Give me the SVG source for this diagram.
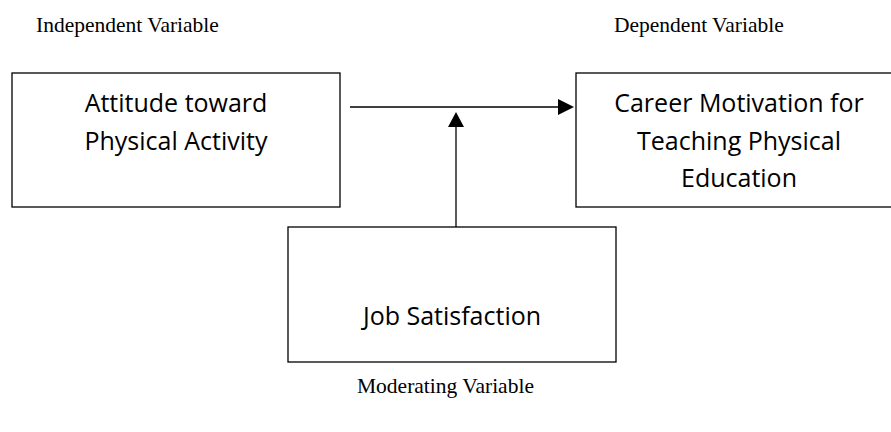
<svg xmlns="http://www.w3.org/2000/svg" width="891" height="432" viewBox="0 0 891 432">
<style>
.box{fill:#fff;stroke:#000;stroke-width:1.3}
.t{font-family:"Open Sans","Noto Sans",sans-serif;font-size:25px;fill:#000;text-anchor:middle}
.lab{font-family:"Liberation Serif","Times New Roman",serif;font-size:21.5px;fill:#000}
.ln{stroke:#000;stroke-width:1.3;fill:none}
</style>
<rect width="891" height="432" fill="#fff"/>
<text class="lab" x="36" y="32">Independent Variable</text>
<text class="lab" x="614" y="32">Dependent Variable</text>
<text class="lab" x="357" y="393">Moderating Variable</text>
<g id="iv">
<rect class="box" x="12" y="73" width="328" height="134"/>
<text class="t" x="176" y="112">Attitude toward</text>
<text class="t" x="176" y="150">Physical Activity</text>
</g>
<g id="dv">
<rect class="box" x="576" y="73" width="330" height="134"/>
<text class="t" x="739" y="112">Career Motivation for</text>
<text class="t" x="739" y="150">Teaching Physical</text>
<text class="t" x="739" y="187">Education</text>
</g>
<g id="mv">
<rect class="box" x="288" y="227" width="328" height="135"/>
<text class="t" x="452" y="325">Job Satisfaction</text>
</g>
<g id="connectors">
<line class="ln" x1="350" y1="107" x2="559" y2="107"/>
<polygon points="558,99 574,107 558,115" fill="#000"/>
<line class="ln" x1="456" y1="227" x2="456" y2="126"/>
<polygon points="448,127 456,112 464,127" fill="#000"/>
</g>
</svg>
